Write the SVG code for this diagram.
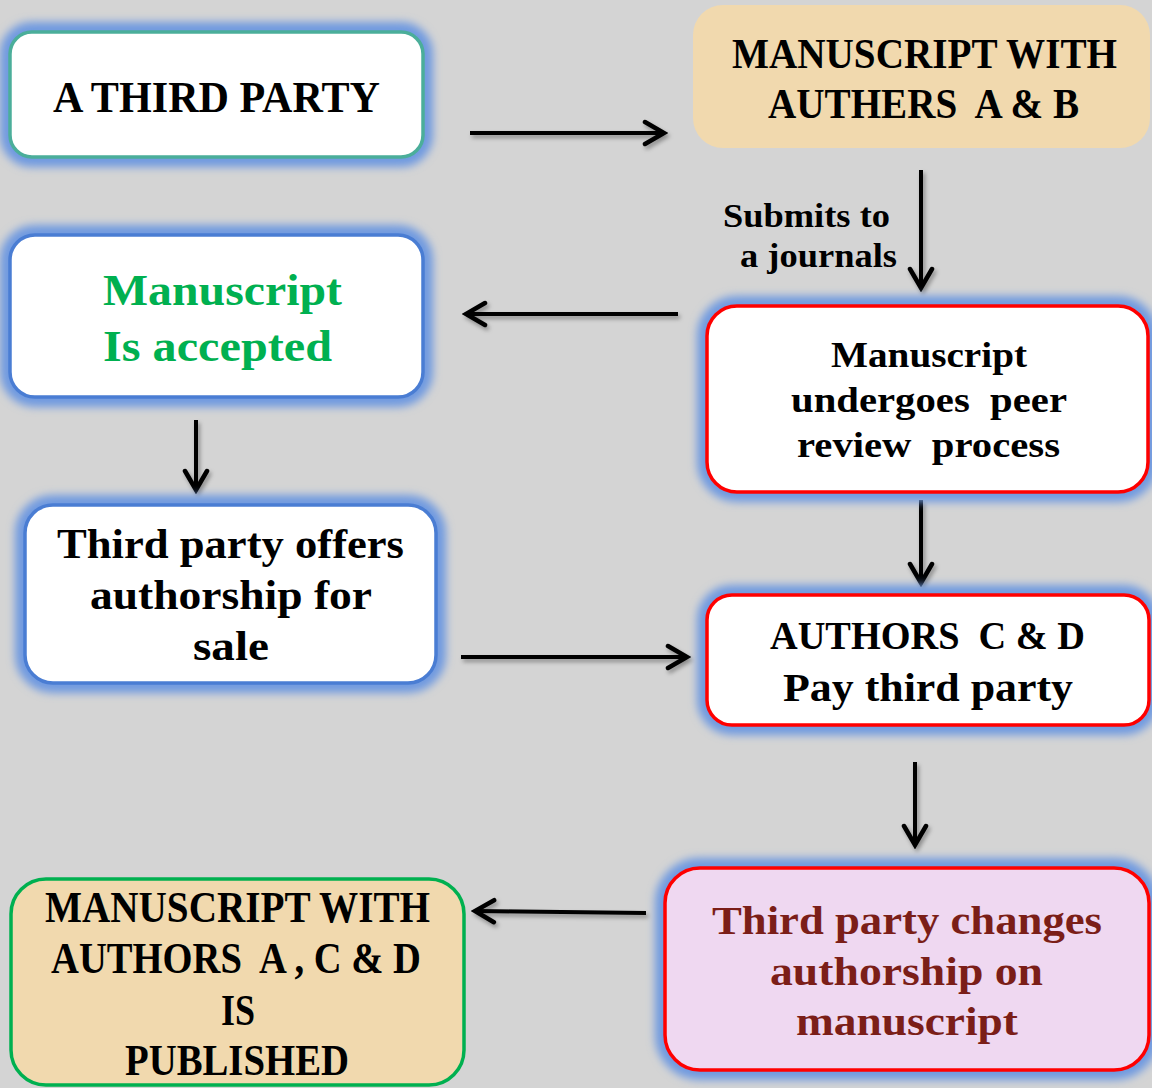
<svg xmlns="http://www.w3.org/2000/svg" width="1152" height="1088" viewBox="0 0 1152 1088">
<defs>
<style>
text{font-family:"Liberation Serif","DejaVu Serif",serif;font-weight:bold;fill:#000;white-space:pre}
.glow{fill:none;stroke:#6f9ae0;stroke-width:20;filter:url(#blur)}
.box{stroke-width:3.5}
.c{text-anchor:middle}
.conn{fill:none;stroke:#000;stroke-width:4;marker-end:url(#arr)}
</style>
<filter id="blur" x="-15%" y="-25%" width="130%" height="150%"><feGaussianBlur stdDeviation="4"/></filter>
<filter id="sh" x="-10%" y="-10%" width="120%" height="120%"><feDropShadow dx="2" dy="3" stdDeviation="2" flood-color="#000" flood-opacity="0.35"/></filter>
<marker id="arr" viewBox="-24 -14 28 28" refX="0" refY="0" markerWidth="28" markerHeight="28" markerUnits="userSpaceOnUse" orient="auto">
<path d="M-19,-11 L0,0 L-19,11" fill="none" stroke="#000" stroke-width="4.5" stroke-linecap="round" stroke-linejoin="miter"/>
</marker>
</defs>
<rect width="1152" height="1088" fill="#d4d4d4"/>

<g id="connectors" filter="url(#sh)">
<path class="conn" d="M470,133 L664,133"/>
<path class="conn" d="M921,170 L921,288"/>
<path class="conn" d="M678,314 L466,314"/>
<path class="conn" d="M196,420 L196,490"/>
<path class="conn" d="M921,500 L921,583"/>
<path class="conn" d="M461,657 L687,657"/>
<path class="conn" d="M915,762 L915,845"/>
<path class="conn" d="M646,913 L475,911"/>
</g>

<g id="node-third-party">
<rect class="glow" x="10" y="32" width="413" height="125" rx="22"/>
<rect class="box" x="10" y="32" width="413" height="125" rx="22" fill="#fff" stroke="#4bae9a"/>
<text class="c" x="216.5" y="112" font-size="45" textLength="327" lengthAdjust="spacingAndGlyphs">A THIRD PARTY</text>
</g>

<g id="node-manuscript-ab">
<rect x="693" y="5" width="457" height="143" rx="30" fill="#f1d9ae"/>
<text class="c" x="924.5" y="68" font-size="42" textLength="385" lengthAdjust="spacingAndGlyphs">MANUSCRIPT WITH</text>
<text class="c" x="923.5" y="118" font-size="42" textLength="311" lengthAdjust="spacingAndGlyphs" xml:space="preserve">AUTHERS  A &amp; B</text>
</g>

<g id="label-submits">
<text x="723" y="227" font-size="34" textLength="167" lengthAdjust="spacingAndGlyphs">Submits to</text>
<text x="740" y="267" font-size="34" textLength="157" lengthAdjust="spacingAndGlyphs">a journals</text>
</g>

<g id="node-accepted">
<rect class="glow" x="10" y="235" width="413" height="162" rx="25"/>
<rect class="box" x="10" y="235" width="413" height="162" rx="25" fill="#fff" stroke="#4a7dd3"/>
<text x="103" y="305" font-size="44" textLength="239" lengthAdjust="spacingAndGlyphs" style="fill:#00b050">Manuscript</text>
<text x="103" y="361" font-size="44" textLength="229" lengthAdjust="spacingAndGlyphs" style="fill:#00b050">Is accepted</text>
</g>

<g id="node-peer-review">
<rect class="glow" x="707" y="306" width="441" height="186" rx="30"/>
<rect class="box" x="707" y="306" width="441" height="186" rx="30" fill="#fff" stroke="#ff0000"/>
<text class="c" x="929" y="367" font-size="35" textLength="196" lengthAdjust="spacingAndGlyphs">Manuscript</text>
<text class="c" x="929" y="412" font-size="35" textLength="276" lengthAdjust="spacingAndGlyphs" xml:space="preserve">undergoes  peer</text>
<text class="c" x="928.5" y="457" font-size="35" textLength="263" lengthAdjust="spacingAndGlyphs" xml:space="preserve">review  process</text>
</g>

<g id="node-offers">
<rect class="glow" x="25" y="505" width="411" height="178" rx="28"/>
<rect class="box" x="25" y="505" width="411" height="178" rx="28" fill="#fff" stroke="#4a7dd3"/>
<text class="c" x="230.5" y="558" font-size="42" textLength="347" lengthAdjust="spacingAndGlyphs">Third party offers</text>
<text class="c" x="231" y="609" font-size="42" textLength="282" lengthAdjust="spacingAndGlyphs">authorship for</text>
<text class="c" x="231" y="660" font-size="42" textLength="76" lengthAdjust="spacingAndGlyphs">sale</text>
</g>

<g id="node-pay">
<rect class="glow" x="707" y="595" width="442" height="130" rx="25"/>
<rect class="box" x="707" y="595" width="442" height="130" rx="25" fill="#fff" stroke="#ff0000"/>
<text class="c" x="927.5" y="649" font-size="41" textLength="315" lengthAdjust="spacingAndGlyphs" xml:space="preserve">AUTHORS  C &amp; D</text>
<text class="c" x="928" y="701" font-size="41" textLength="290" lengthAdjust="spacingAndGlyphs">Pay third party</text>
</g>

<g id="node-changes">
<rect class="glow" x="665" y="868" width="484" height="202" rx="35"/>
<rect class="box" x="665" y="868" width="484" height="202" rx="35" fill="#efd8f1" stroke="#ff0000"/>
<text class="c" x="907" y="934" font-size="41" textLength="390" lengthAdjust="spacingAndGlyphs" style="fill:#7b1e18">Third party changes</text>
<text class="c" x="906.5" y="985" font-size="41" textLength="273" lengthAdjust="spacingAndGlyphs" style="fill:#7b1e18">authorship on</text>
<text class="c" x="907" y="1035" font-size="41" textLength="222" lengthAdjust="spacingAndGlyphs" style="fill:#7b1e18">manuscript</text>
</g>

<g id="node-published">
<rect class="box" x="11" y="879" width="453" height="206" rx="35" fill="#f1d9ae" stroke="#00b050"/>
<text class="c" x="237.5" y="922" font-size="44" textLength="385" lengthAdjust="spacingAndGlyphs">MANUSCRIPT WITH</text>
<text class="c" x="236" y="973" font-size="44" textLength="370" lengthAdjust="spacingAndGlyphs" xml:space="preserve">AUTHORS  A , C &amp; D</text>
<text class="c" x="238" y="1025" font-size="44" textLength="34" lengthAdjust="spacingAndGlyphs">IS</text>
<text class="c" x="237" y="1075" font-size="44" textLength="224" lengthAdjust="spacingAndGlyphs">PUBLISHED</text>
</g>
</svg>
